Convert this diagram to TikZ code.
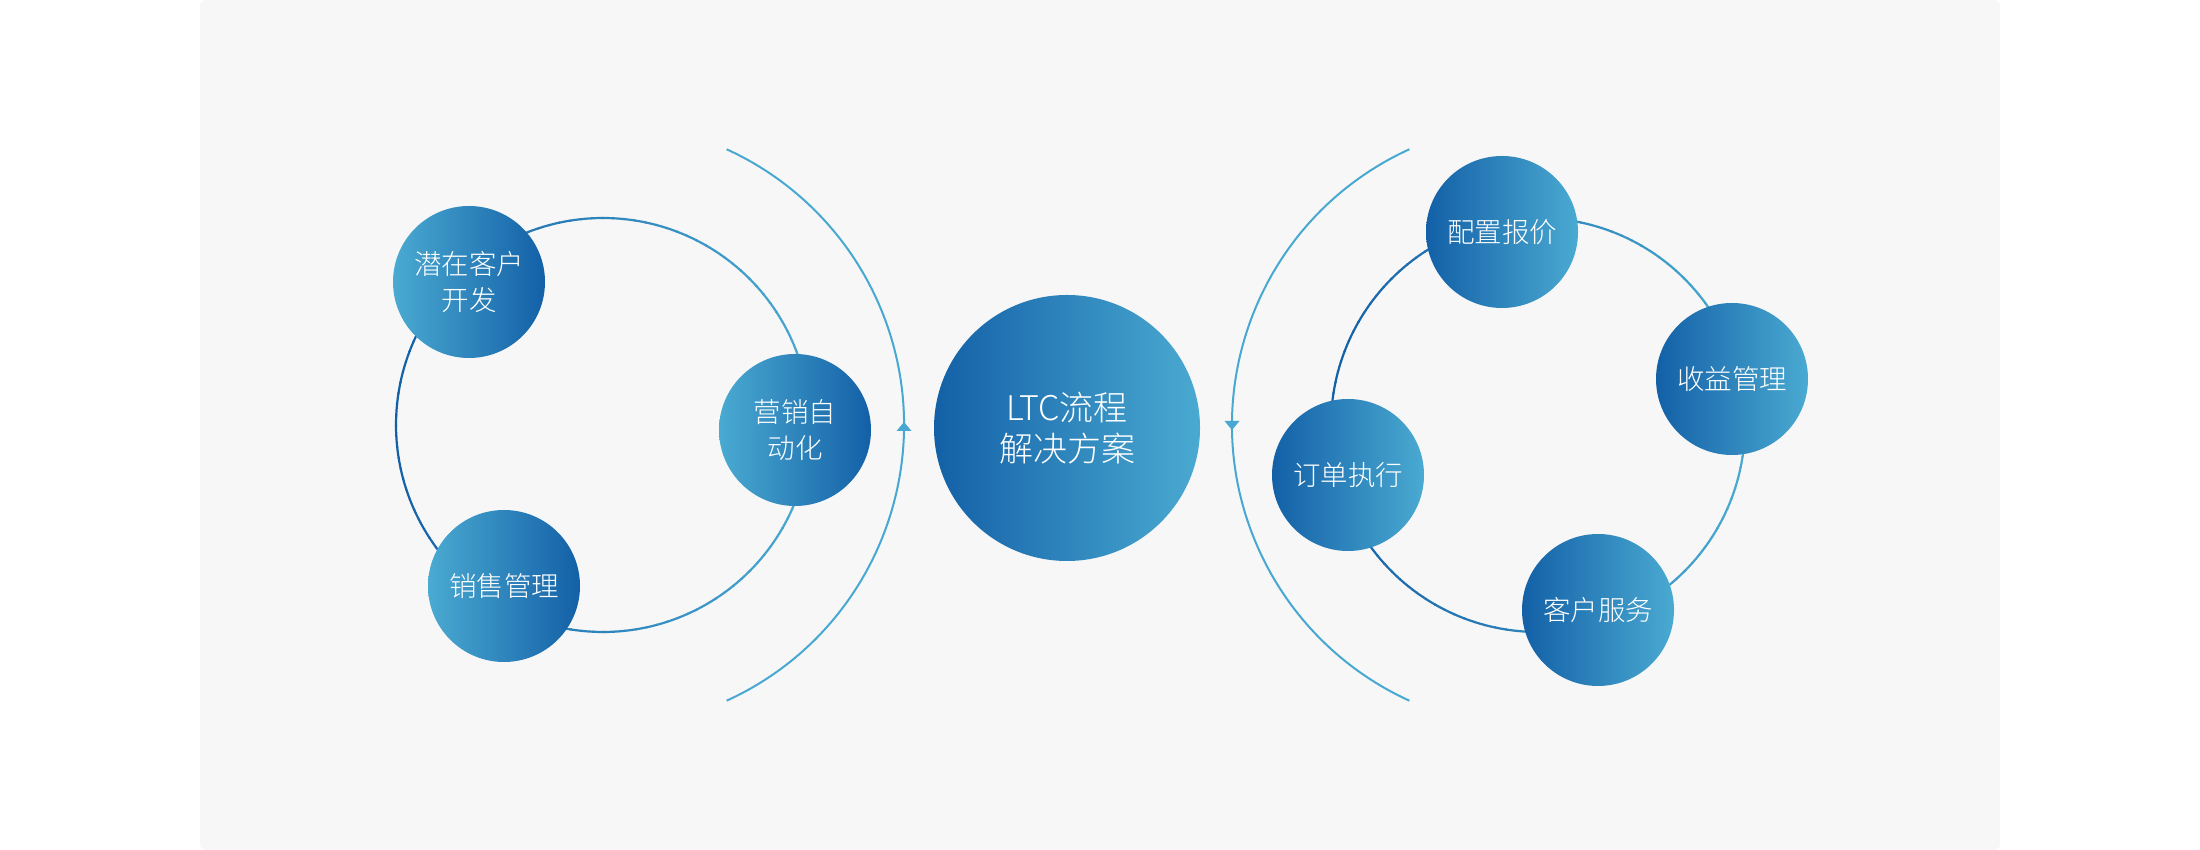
\documentclass[tikz,border=0pt]{standalone}
\usepackage{fontspec}
\newfontfamily\cjk{Noto Sans CJK SC Light}
\definecolor{dk}{HTML}{1360A7}
\definecolor{lt}{HTML}{4AAAD1}
\definecolor{bg}{HTML}{F7F7F7}
\definecolor{arcc}{HTML}{48A8D2}
\begin{document}
\begin{tikzpicture}[x=1pt,y=1pt,
  bub/.style={circle, minimum size=152pt, inner sep=0pt, text=white, align=center,
    font=\cjk\fontsize{27.5}{36}\selectfont},
  bubL/.style={bub, left color=lt, right color=dk},
  bubR/.style={bub, left color=dk, right color=lt},
  hub/.style={circle, minimum size=266pt, inner sep=0pt, text=white, align=center,
    left color=dk, right color=lt, font=\cjk\fontsize{34}{41}\selectfont},
  outerarc/.style={draw=arcc, line width=2pt},
  tipmark/.style={fill=arcc}]
\useasboundingbox (0,0) rectangle (2200,850);
\fill[bg, rounded corners=6pt] (200,0) rectangle (2000,850);

% rings with horizontal colour gradient
\coordinate (ringL) at (603,425);
\coordinate (ringR) at (1538,425);
\foreach \a in {0,3,...,357}{
  \pgfmathsetmacro\p{50+50*cos(\a+1.5)}
  \draw[line width=2.2pt, lt!\p!dk] ([shift={(\a:207)}]ringL) arc[start angle=\a, end angle=\a+3.3, radius=207];
  \draw[line width=2.2pt, lt!\p!dk] ([shift={(\a:207)}]ringR) arc[start angle=\a, end angle=\a+3.3, radius=207];
}

% outer arcs
\coordinate (arcL) at (601,425);
\coordinate (arcR) at (1535,425);
\draw[outerarc] ([shift={(-65.5:303)}]arcL) arc[start angle=-65.5, end angle=65.5, radius=303];
\draw[outerarc] ([shift={(114.5:303)}]arcR) arc[start angle=114.5, end angle=245.5, radius=303];
\fill[tipmark] (904,428) -- (896.5,419) -- (911.5,419) -- cycle;
\fill[tipmark] (1232,420) -- (1224.5,429) -- (1239.5,429) -- cycle;

% left group
\node[bubL] (qz) at (469,568) {潜在客户\\开发};
\node[bubL] (xs) at (504,264) {销售管理};
\node[bubL] (yx) at (795,420) {营销自\\动化};

% hub
\node[hub] (ltc) at (1067,422) {LTC流程\\解决方案};

% right group
\node[bubR] (pz) at (1502,618) {配置报价};
\node[bubR] (sy) at (1732,471) {收益管理};
\node[bubR] (dd) at (1348,375) {订单执行};
\node[bubR] (kf) at (1598,240) {客户服务};
\end{tikzpicture}
\end{document}
